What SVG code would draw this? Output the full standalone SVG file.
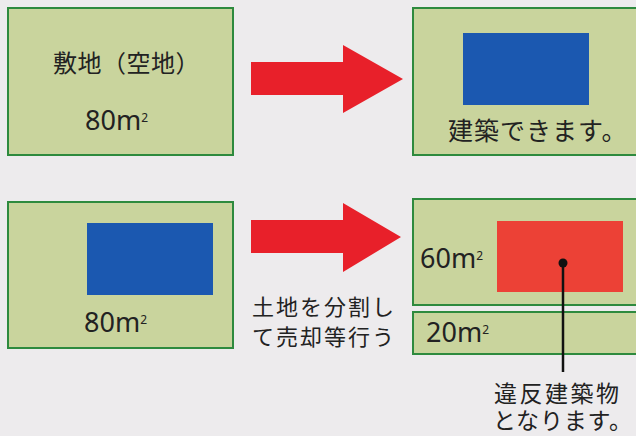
<svg xmlns="http://www.w3.org/2000/svg" width="636" height="436" viewBox="0 0 636 436">
<defs>
<style>
.lot{fill:#c9d49d;stroke:#2e8a3e;stroke-width:2}
.blue{fill:#1b58b0}
.redb{fill:#ec4136}
.arrow{fill:#e8202a}
.jp{font-family:"Noto Sans CJK JP","Noto Sans",sans-serif;fill:#222}
.num{font-family:"Noto Sans","Liberation Sans",sans-serif;fill:#222;font-size:27px}
.sup{font-size:12px}
</style>
</defs>
<rect width="636" height="436" fill="#edebed"/>
<g id="lot-empty">
<rect class="lot" x="8" y="8" width="225" height="147"/>
<text class="jp" x="53" y="72" font-size="24" letter-spacing="0.5">敷地（空地）</text>
<text class="num" x="85" y="130">80m<tspan class="sup" dy="-8">2</tspan></text>
</g>
<g id="lot-built">
<rect class="lot" x="413" y="8" width="232" height="147"/>
<rect class="blue" x="463" y="33" width="126" height="72"/>
<text class="jp" x="448" y="140" font-size="25" letter-spacing="1">建築できます。</text>
</g>
<g id="lot-existing">
<rect class="lot" x="8" y="202" width="225" height="146"/>
<rect class="blue" x="87" y="223" width="126" height="72"/>
<text class="num" x="84" y="332">80m<tspan class="sup" dy="-8">2</tspan></text>
</g>
<g id="lot-60">
<rect class="lot" x="413" y="199" width="232" height="106"/>
<rect class="redb" x="497" y="221" width="126" height="71"/>
<text class="num" x="420" y="268">60m<tspan class="sup" dy="-8">2</tspan></text>
</g>
<g id="lot-20">
<rect class="lot" x="413" y="312" width="232" height="42"/>
<text class="num" x="426" y="342">20m<tspan class="sup" dy="-8">2</tspan></text>
</g>
<g id="connectors">
<path class="arrow" d="M251,62 H343 V45 L403,79 L343,113 V95 H251 Z"/>
<path class="arrow" d="M251,220 H343 V203 L401,237 L343,272 V253 H251 Z"/>
<line x1="563" y1="263" x2="563" y2="372" stroke="#111" stroke-width="2.5"/>
<circle cx="563" cy="263" r="4.5" fill="#111"/>
</g>
<g id="label-split">
<text class="jp" x="252" y="315" font-size="22" letter-spacing="2">土地を分割し</text>
<text class="jp" x="252" y="345" font-size="22" letter-spacing="2">て売却等行う</text>
</g>
<g id="label-violation">
<text class="jp" x="494" y="402" font-size="23" letter-spacing="2.5">違反建築物</text>
<text class="jp" x="493" y="429" font-size="23" letter-spacing="0.8">となります。</text>
</g>
</svg>
